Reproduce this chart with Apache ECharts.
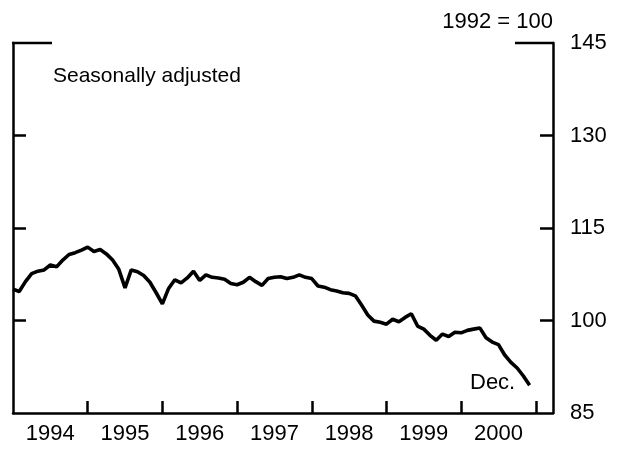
<!DOCTYPE html>
<html>
<head>
<meta charset="utf-8">
<script src="https://cdn.jsdelivr.net/npm/echarts@6/dist/echarts.min.js"></script>
<style>
  html, body { margin: 0; padding: 0; background: #fff; }
  #chart { width: 626px; height: 455px; }
</style>
</head>
<body>
<div id="chart"></div>
<script>
// monthly index, Jan 1994 .. Dec 2000 (1992 = 100)
var startYear = 1994;
var values = [
  105.1, 104.7, 106.3, 107.6, 108.0, 108.2, 109.0, 108.7, 109.8, 110.7, 111.0, 111.4,
  111.9, 111.2, 111.5, 110.8, 109.8, 108.3, 105.3, 108.2, 107.9, 107.3, 106.2, 104.5,
  102.7, 105.2, 106.6, 106.1, 106.9, 108.0, 106.5, 107.4, 107.0, 106.9, 106.7, 106.0,
  105.8, 106.2, 107.0, 106.3, 105.7, 106.8, 107.0, 107.1, 106.8, 107.0, 107.4, 107.0,
  106.8, 105.6, 105.4, 105.0, 104.8, 104.5, 104.4, 104.0, 102.5, 100.9, 99.9, 99.7,
  99.4, 100.2, 99.8, 100.5, 101.1, 99.1, 98.6, 97.6, 96.8, 97.8, 97.4, 98.1,
  98.0, 98.4, 98.6, 98.8, 97.2, 96.5, 96.1, 94.4, 93.2, 92.3, 91.0, 89.5
];
var yearTicks = [1995, 1996, 1997, 1998, 1999, 2000, 2001];
var yearLabels = [1994.5, 1995.5, 1996.5, 1997.5, 1998.5, 1999.5, 2000.5];
var yTicks = [100, 115, 130];

var font = "'Liberation Sans', Arial, Helvetica, sans-serif";
var lineData = values.map(function (v, i) { return [startYear + i / 12, v]; });

var chart = echarts.init(document.getElementById('chart'));
chart.setOption({
  animation: false,
  grid: { left: 13, right: 73, top: 43, bottom: 42, containLabel: false },
  xAxis: {
    type: 'value',
    min: 1994,
    max: 2001.23,
    axisLine: { lineStyle: { color: '#000', width: 2.5 } },
    axisTick: { inside: true, length: 12, customValues: yearTicks, lineStyle: { color: '#000', width: 2.5 } },
    axisLabel: {
      customValues: yearLabels,
      formatter: function (v) { return String(Math.floor(v)); },
      color: '#000', fontSize: 22, fontFamily: font, margin: 10
    },
    splitLine: { show: false }
  },
  yAxis: [
    {
      type: 'value', position: 'right', min: 85, max: 145, interval: 15,
      axisLine: { show: true, lineStyle: { color: '#000', width: 2.5 } },
      axisTick: { inside: true, length: 13, customValues: yTicks, lineStyle: { color: '#000', width: 2.5 } },
      axisLabel: { color: '#000', fontSize: 22, fontFamily: font, margin: 17 },
      splitLine: { show: false }
    },
    {
      type: 'value', position: 'left', min: 85, max: 145, interval: 15,
      axisLine: { show: true, lineStyle: { color: '#000', width: 2.5 } },
      axisTick: { inside: true, length: 13, customValues: yTicks, lineStyle: { color: '#000', width: 2.5 } },
      axisLabel: { show: false },
      splitLine: { show: false }
    }
  ],
  graphic: [
    { type: 'line', shape: { x1: 12, y1: 43, x2: 52, y2: 43 }, style: { stroke: '#000', lineWidth: 2.5 } },
    { type: 'line', shape: { x1: 515, y1: 43, x2: 554, y2: 43 }, style: { stroke: '#000', lineWidth: 2.5 } },
    { type: 'text', right: 73, top: 11, style: { text: '1992 = 100', fill: '#000', font: '22px ' + font } },
    { type: 'text', left: 53, top: 66, style: { text: 'Seasonally adjusted', fill: '#000', font: '21px ' + font } },
    { type: 'text', left: 470, top: 372, style: { text: 'Dec.', fill: '#000', font: '22px ' + font } }
  ],
  series: [{
    type: 'line',
    data: lineData,
    showSymbol: false,
    lineStyle: { color: '#000', width: 3.6 },
    yAxisIndex: 0
  }]
});
</script>
</body>
</html>
